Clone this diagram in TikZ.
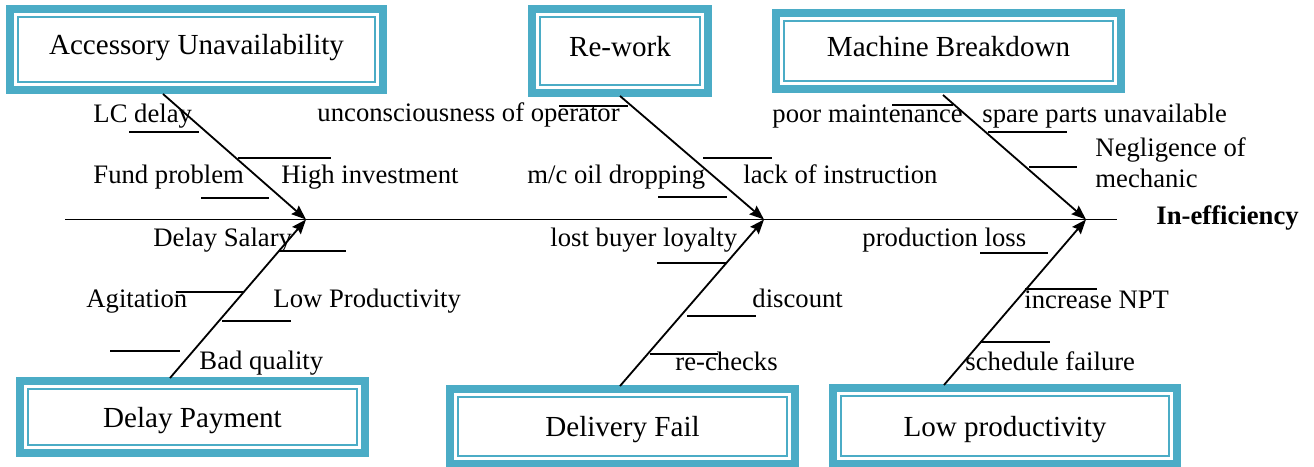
\documentclass[tikz,border=0pt]{standalone}
\usepackage{fontspec}
\setmainfont{Liberation Serif}
\usetikzlibrary{arrows.meta}
\definecolor{boxteal}{RGB}{75,172,198}
\newcommand{\pxu}{0.0145cm}
\newcommand{\framecolor}{boxteal}
\tikzset{
  causebox/.style={draw=\framecolor, line width=0.8pt, fill=white, inner sep=0pt,
    font=\fontsize{12}{14}\selectfont, text height=7.5pt, text depth=3pt,
    preaction={draw=\framecolor, line width=9.9pt},
    preaction={draw=white, line width=3.3pt}},
  lowbox/.style={causebox, text height=9pt, text depth=0.5pt},
  subcause/.style={anchor=base west, inner sep=0pt, font=\fontsize{11}{13}\selectfont},
  branch/.style={->, line width=0.75pt},
  tick/.style={line width=0.7pt}
}

\begin{document}
\begin{tikzpicture}[x=\pxu, y=-\pxu, >={Stealth[length=6pt, width=4.6pt, inset=0.8pt]}]
        \useasboundingbox (0,0) rectangle (1314,467);

        % spine
        \coordinate (tail) at (65,219.5);
        \coordinate (head) at (1117,219.5);
        \coordinate (tipA) at (306,219.5);
        \coordinate (tipB) at (764,219.5);
        \coordinate (tipC) at (1086,219.5);
        \draw[line width=0.8pt] (tail) -- (head);
        \node[subcause, font=\fontsize{11}{13}\selectfont\bfseries] (effect) at (1156,225) {In-efficiency};

        % cause boxes
        \node[causebox, minimum width=357*\pxu, minimum height=65*\pxu] (acc) at (196.5,49.5) {Accessory Unavailability};
        \node[causebox, minimum width=160*\pxu, minimum height=68*\pxu] (rework) at (620,51) {Re-work};
        \node[causebox, minimum width=329*\pxu, minimum height=60*\pxu] (mach) at (948.5,51) {Machine Breakdown};
        \node[lowbox, minimum width=329*\pxu, minimum height=56*\pxu] (delpay) at (192.5,417) {Delay Payment};
        \node[lowbox, minimum width=329*\pxu, minimum height=59*\pxu] (delfail) at (622.5,426.5) {Delivery Fail};
        \node[lowbox, minimum width=328*\pxu, minimum height=60*\pxu] (lowprod) at (1005,426) {Low productivity};

        % branch feet
        \coordinate (accfoot) at (163,94);
        \coordinate (rwfoot) at (620,96);
        \coordinate (mbfoot) at (943,95);
        \coordinate (dpfoot) at (170,378);
        \coordinate (dffoot) at (620,386);
        \coordinate (lpfoot) at (944,385);

        % branches
        \draw[branch] (accfoot) -- (tipA);
        \draw[branch] (rwfoot) -- (tipB);
        \draw[branch] (mbfoot) -- (tipC);
        \draw[branch] (dpfoot) -- (tipA);
        \draw[branch] (dffoot) -- (tipB);
        \draw[branch] (lpfoot) -- (tipC);

        % sub-cause ticks
        \foreach \xa/\xb/\yy in {129/199/132, 238/331/158, 201/269/198,
            559/628/106, 703/772/158, 658/727/197,
            892/953/105, 988/1067/132, 1029/1077/167,
            279/346/251, 176/243/292, 222/291/321, 110/180/351,
            657/726/263, 687/756/316, 650/718/354,
            980/1048/253, 1025/1097/289, 980/1050/342}
            \draw[tick] (\xa,\yy) -- (\xb,\yy);

        % labels
        \node[subcause] (lcdelay) at (93,123) {LC delay};
        \node[subcause] (fund) at (93,184) {Fund problem};
        \node[subcause] (invest) at (281,184) {High investment};
        \node[subcause] (uncons) at (317,122) {unconsciousness of operator};
        \node[subcause] (oil) at (527,184) {m/c oil dropping};
        \node[subcause] (instr) at (743,184) {lack of instruction};
        \node[subcause] (maint) at (772,123) {poor maintenance};
        \node[subcause] (spare) at (982,123) {spare parts unavailable};
        \node[subcause, align=left, font=\fontsize{11}{12.8}\selectfont] (neglig) at (1095,188) {Negligence of\\mechanic};
        \node[subcause] (salary) at (153,247) {Delay Salary};
        \node[subcause] (agit) at (86,308) {Agitation};
        \node[subcause] (lowp) at (273,308) {Low Productivity};
        \node[subcause] (badq) at (199,370) {Bad quality};
        \node[subcause] (loyal) at (550,247) {lost buyer loyalty};
        \node[subcause] (disc) at (752,308) {discount};
        \node[subcause] (recheck) at (675,371) {re-checks};
        \node[subcause] (prodloss) at (862,247) {production loss};
        \node[subcause] (npt) at (1024,309) {increase NPT};
        \node[subcause] (sched) at (965,371) {schedule failure};
    \end{tikzpicture}
\end{document}
